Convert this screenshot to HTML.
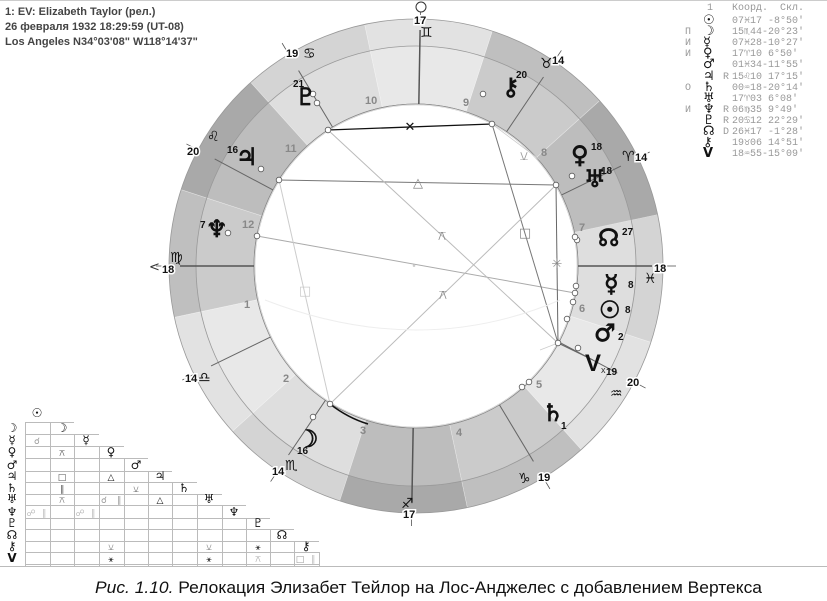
<!DOCTYPE html>
<html><head><meta charset="utf-8">
<style>
html,body{margin:0;padding:0;background:#fff;}
svg{display:block;}
.hd{font:bold 11px "Liberation Sans",sans-serif;fill:#444;}
.tb{font:10px "Liberation Mono","DejaVu Sans Mono",monospace;fill:#999;}
.tg{font:bold 13px "DejaVu Sans",sans-serif;fill:#111;}
.pl{font:bold 24px "DejaVu Sans",sans-serif;fill:#111;stroke:#111;stroke-width:0.8px;}
.dg{font:bold 10px "Liberation Sans",sans-serif;fill:#111;}
.cu{font:bold 11px "Liberation Sans",sans-serif;fill:#111;stroke:#fff;stroke-width:3px;paint-order:stroke;}
.zs{font:bold 14px "DejaVu Sans",sans-serif;fill:#111;}
.hn{font:bold 11px "Liberation Sans",sans-serif;fill:#888;}
.am{font:13px "DejaVu Sans",sans-serif;text-anchor:middle;}
.gl{font:bold 12px "DejaVu Sans",sans-serif;fill:#111;text-anchor:middle;}
.ga{font:9px "DejaVu Sans",sans-serif;text-anchor:middle;}
</style></head>
<body>
<svg id="s" width="827" height="601" viewBox="0 0 827 601" xmlns="http://www.w3.org/2000/svg">
<line x1="0" y1="0.5" x2="827" y2="0.5" stroke="#ccc"/>
<line x1="0" y1="566.5" x2="827" y2="566.5" stroke="#bbb"/>
<g id="wheel"></g>
<g id="grid" stroke="#bbb" stroke-width="1" fill="none"></g>

<text class="hd" x="5" y="15">1: EV: Elizabeth Taylor (рел.)</text>
<text class="hd" x="5" y="30">26 февраля 1932 18:29:59 (UT-08)</text>
<text class="hd" x="5" y="45">Los Angeles N34°03'08" W118°14'37"</text>

<g>
<text class="tb" x="707" y="10">1</text><text class="tb" x="732" y="10">Коорд.</text><text class="tb" x="780" y="10">Скл.</text>
<text class="tg" x="703" y="24">☉</text><text class="tb" x="732" y="23">07♓17  -8°50'</text>
<text class="tb" x="685" y="34">П</text><text class="tg" x="703" y="35">☽</text><text class="tb" x="732" y="34">15♏44-20°23'</text>
<text class="tb" x="685" y="45">И</text><text class="tg" x="703" y="46">☿</text><text class="tb" x="732" y="45">07♓28-10°27'</text>
<text class="tb" x="685" y="56">И</text><text class="tg" x="703" y="57">♀</text><text class="tb" x="732" y="56">17♈10  6°50'</text>
<text class="tg" x="703" y="68">♂</text><text class="tb" x="732" y="67">01♓34-11°55'</text>
<text class="tg" x="703" y="80">♃</text><text class="tb" x="723" y="79">R</text><text class="tb" x="732" y="79">15♌10 17°15'</text>
<text class="tb" x="685" y="90">О</text><text class="tg" x="703" y="91">♄</text><text class="tb" x="732" y="90">00♒18-20°14'</text>
<text class="tg" x="703" y="102">♅</text><text class="tb" x="732" y="101">17♈03  6°08'</text>
<text class="tb" x="685" y="112">И</text><text class="tg" x="703" y="113">♆</text><text class="tb" x="723" y="112">R</text><text class="tb" x="732" y="112">06♍35  9°49'</text>
<text class="tg" x="703" y="124">♇</text><text class="tb" x="723" y="123">R</text><text class="tb" x="732" y="123">20♋12 22°29'</text>
<text class="tg" x="703" y="135">☊</text><text class="tb" x="723" y="134">D</text><text class="tb" x="732" y="134">26♓17 -1°28'</text>
<text class="tg" x="703" y="146">⚷</text><text class="tb" x="732" y="145">19♉06 14°51'</text>
<text class="tg" x="703" y="157">V</text><text class="tb" x="732" y="156">18♒55-15°09'</text>
</g>

<g class="am">
<text x="410" y="131" fill="#111">✕</text>
<text x="418" y="187" fill="#888">△</text>
<text x="442" y="240" fill="#888">⚻</text>
<text x="525" y="237" fill="#888">□</text>
<text x="557" y="268" fill="#888">✳</text>
<text x="443" y="299" fill="#888">⚻</text>
<text x="305" y="295" fill="#ccc">□</text>
<text x="524" y="160" fill="#999">⚺</text>
<text x="414" y="269" fill="#ccc" font-size="9">•</text>
</g>

<g class="hn">
<text x="365" y="104">10</text><text x="463" y="106">9</text><text x="541" y="156">8</text>
<text x="579" y="231">7</text><text x="579" y="312">6</text><text x="536" y="388">5</text>
<text x="456" y="436">4</text><text x="360" y="434">3</text><text x="283" y="382">2</text>
<text x="244" y="308">1</text><text x="242" y="228">12</text><text x="285" y="152">11</text>
</g>

<g>
<circle cx="421" cy="7" r="5" fill="#fff" stroke="#333"/>
<text class="cu" x="414" y="24">17</text><text class="zs" x="420" y="37">♊</text>
<text class="cu" x="286" y="57">19</text><text class="zs" x="303" y="58">♋</text>
<text class="zs" x="207" y="141">♌</text><text class="cu" x="187" y="155">20</text>
<text class="zs" x="170" y="262">♍</text><text class="cu" x="162" y="273">18</text>
<text x="149" y="271" style="font:13px 'DejaVu Sans';fill:#333">&lt;</text>
<text class="cu" x="185" y="382">14</text><text class="zs" x="198" y="382">♎</text>
<text class="cu" x="272" y="475">14</text><text class="zs" x="285" y="470">♏</text>
<text class="zs" x="401" y="508">♐</text><text class="cu" x="403" y="518">17</text>
<text class="zs" x="518" y="483">♑</text><text class="cu" x="538" y="481">19</text>
<text class="cu" x="627" y="386">20</text><text class="zs" x="610" y="398">♒</text>
<text class="zs" x="644" y="283">♓</text><text class="cu" x="654" y="272">18</text>
<text class="zs" x="622" y="161">♈</text><text class="cu" x="635" y="161">14</text>
<text class="zs" x="540" y="68">♉</text><text class="cu" x="552" y="64">14</text>
</g>

<g>
<text class="pl" x="295" y="105">♇</text><text class="dg" x="293" y="87">21</text>
<text class="pl" x="236" y="165">♃</text><text class="dg" x="227" y="153">16</text>
<text class="pl" x="206" y="237">♆</text><text class="dg" x="200" y="228">7</text>
<text class="pl" x="502" y="95">⚷</text><text class="dg" x="516" y="78">20</text>
<text class="pl" x="571" y="163">♀</text><text class="dg" x="591" y="150">18</text>
<text class="pl" x="584" y="187">♅</text><text class="dg" x="601" y="174">18</text>
<text class="pl" x="598" y="246">☊</text><text class="dg" x="622" y="235">27</text>
<text class="pl" x="604" y="292">☿</text><text class="dg" x="628" y="288">8</text>
<text class="pl" x="599" y="318">☉</text><text class="dg" x="625" y="313">8</text>
<text class="pl" x="594" y="341">♂</text><text class="dg" x="618" y="340">2</text>
<text x="585" y="371" style="font:bold 24px 'Liberation Sans';fill:#111">V</text><text x="601" y="373" style="font:9px 'Liberation Sans';fill:#333">x</text><text class="dg" x="606" y="375">19</text>
<text class="pl" x="542" y="421">♄</text><text class="dg" x="561" y="429">1</text>
<text class="pl" x="297" y="447">☽</text><text class="dg" x="297" y="454">16</text>
</g>

<g id="gg">
<text class="gl" x="37" y="417">☉</text>
<text class="gl" x="12" y="432">☽</text><text class="gl" x="12" y="444">☿</text><text class="gl" x="12" y="456">♀</text>
<text class="gl" x="12" y="469">♂</text><text class="gl" x="12" y="480">♃</text><text class="gl" x="12" y="492">♄</text>
<text class="gl" x="12" y="503">♅</text><text class="gl" x="12" y="516">♆</text><text class="gl" x="12" y="527">♇</text>
<text class="gl" x="12" y="539">☊</text><text class="gl" x="12" y="550">⚷</text><text class="gl" x="12" y="562">V</text>
<text class="gl" x="62" y="432">☽</text><text class="gl" x="86" y="444">☿</text><text class="gl" x="111" y="456">♀</text>
<text class="gl" x="136" y="469">♂</text><text class="gl" x="160" y="480">♃</text><text class="gl" x="184" y="492">♄</text>
<text class="gl" x="209" y="503">♅</text><text class="gl" x="234" y="516">♆</text><text class="gl" x="258" y="527">♇</text>
<text class="gl" x="282" y="539">☊</text><text class="gl" x="306" y="550">⚷</text>
<text class="ga" x="37" y="444" fill="#999">☌</text>
<text class="ga" x="62" y="456" fill="#555">⚻</text>
<text class="ga" x="62" y="480" fill="#555">□</text><text class="ga" x="111" y="480" fill="#111">△</text>
<text class="ga" x="62" y="492" fill="#555">∥</text><text class="ga" x="136" y="492" fill="#777">⚺</text>
<text class="ga" x="62" y="503" fill="#777">⚻</text><text class="ga" x="104" y="503" fill="#999">☌</text><text class="ga" x="119" y="503" fill="#999">∥</text><text class="ga" x="160" y="503" fill="#111">△</text>
<text class="ga" x="31" y="516" fill="#bbb">☍</text><text class="ga" x="44" y="516" fill="#bbb">∥</text>
<text class="ga" x="80" y="516" fill="#bbb">☍</text><text class="ga" x="93" y="516" fill="#bbb">∥</text>
<text class="ga" x="111" y="550" fill="#888">⚺</text><text class="ga" x="209" y="550" fill="#888">⚺</text><text class="ga" x="258" y="550" fill="#111">⚹</text>
<text class="ga" x="111" y="562" fill="#111">⚹</text><text class="ga" x="209" y="562" fill="#111">⚹</text><text class="ga" x="258" y="562" fill="#aaa">⚻</text>
<text class="ga" x="300" y="562" fill="#999">□</text><text class="ga" x="313" y="562" fill="#bbb">∥</text>
</g>

<text x="95" y="593" textLength="667" lengthAdjust="spacingAndGlyphs" style="font:17px 'Liberation Sans',sans-serif;fill:#111"><tspan font-style="italic">Рис. 1.10.</tspan> Релокация Элизабет Тейлор на Лос-Анджелес с добавлением Вертекса</text>
</svg>
<script>
(function(){
var NS="http://www.w3.org/2000/svg",cx=416,cy=266,R0=247,R1=220,R2=162;
var W=document.getElementById("wheel"),G=document.getElementById("grid");
function el(p,t,a){var e=document.createElementNS(NS,t);for(var k in a)e.setAttribute(k,a[k]);p.appendChild(e);return e;}
function P(r,t){t=t*Math.PI/180;return [cx+r*Math.cos(t),cy-r*Math.sin(t)];}
function sec(ro,ri,a1,a2,f){var p1=P(ro,a1),p2=P(ro,a2),p3=P(ri,a2),p4=P(ri,a1);
 el(W,"path",{d:"M"+p1+"A"+ro+","+ro+" 0 0 0 "+p2+"L"+p3+"A"+ri+","+ri+" 0 0 1 "+p4+"Z",fill:f,stroke:"none"});}
var oc={f:"#a9a9a9",e:"#bfbfbf",a:"#e2e2e2",w:"#d4d4d4"},ic={f:"#bdbdbd",e:"#cbcbcb",a:"#e8e8e8",w:"#dedede"};
var el4="feaw";
for(var k=0;k<12;k++){var a=12+30*k,t=el4[k%4];sec(R0,R1,a,a+30,oc[t]);sec(R1,R2,a,a+30,ic[t]);
 var q1=P(R0,a),q2=P(R2,a);el(W,"line",{x1:q1[0],y1:q1[1],x2:q2[0],y2:q2[1],stroke:"#fff","stroke-width":0.6,"stroke-opacity":0.5});}
[R0,R1,R2].forEach(function(r){el(W,"circle",{cx:cx,cy:cy,r:r,fill:"none",stroke:"#999","stroke-width":0.8});});
el(W,"circle",{cx:cx,cy:cy,r:R2,fill:"#fff",stroke:"#888","stroke-width":0.8});
el(W,"circle",{cx:cx,cy:cy,r:R2-1,fill:"none",stroke:"#ccc","stroke-width":0.6});
var cus=[180,206,236,269,301,332,0,26,56,89,121,152];
cus.forEach(function(a,i){var ang=(i%3==0);var p1=P(R2,a),p2=P(ang?236:228,a);
 el(W,"line",{x1:p1[0],y1:p1[1],x2:p2[0],y2:p2[1],stroke:ang?"#555":"#666","stroke-width":ang?1.5:1});
 var t1=P(R0,a),t2=P(R0+13,a);el(W,"line",{x1:t1[0],y1:t1[1],x2:t2[0],y2:t2[1],stroke:"#555","stroke-width":0.8});});
var L=[[328,130,492,124,"#111",1.3],[279,180,556,185,"#777",1],[257,236,575,293,"#aaa",1],[492,124,558,343,"#777",1],
[556,185,558,343,"#666",1],[328,130,558,343,"#bbb",1],[556,185,330,404,"#bbb",1],[279,180,330,404,"#ccc",1],[558,343,593,360,"#666",1],
[492,124,540,160,"#ccc",0.8],[558,343,540,350,"#ccc",0.8]];
L.forEach(function(l){el(W,"line",{x1:l[0],y1:l[1],x2:l[2],y2:l[3],stroke:l[4],"stroke-width":l[5]});});
el(W,"path",{d:"M330,404 Q348,418 368,424",fill:"none",stroke:"#111","stroke-width":1.5});
el(W,"path",{d:"M265,300 Q420,360 560,300",fill:"none",stroke:"#eee","stroke-width":1});
var C=[[328,130],[492,124],[279,180],[556,185],[257,236],[575,293],[558,343],[330,404],
[317,103],[313,94],[261,169],[228,233],[483,94],[572,176],[577,240],[576,286],[573,302],[567,319],[522,387],[529,382],[578,348],[313,417],[575,237]];
C.forEach(function(c){el(W,"circle",{cx:c[0],cy:c[1],r:2.8,fill:"#fff",stroke:"#555","stroke-width":0.8});});
var cc=[25,50,74,99,124,148,172,197,222,246,270,294,319],rr=[422,434,446,458,471,482,494,505,518,529,541,552,564];
for(var i=1;i<=12;i++){var x2=cc[Math.min(i+1,12)];el(G,"line",{x1:25,y1:rr[i-1]+.5,x2:x2,y2:rr[i-1]+.5});}
el(G,"line",{x1:25,y1:564.5,x2:319,y2:564.5});
for(var j=0;j<=12;j++){el(G,"line",{x1:cc[j]+.5,y1:rr[Math.max(j-1,0)],x2:cc[j]+.5,y2:566});}
})();
</script>
</body></html>
